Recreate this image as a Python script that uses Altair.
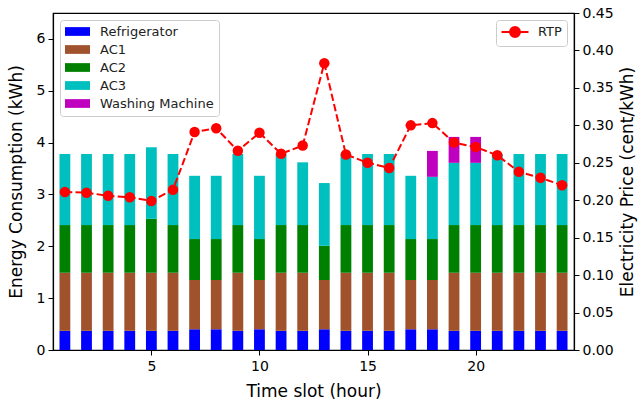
import altair as alt
import pandas as pd

slots = list(range(1, 25))
refrigerator = [0.37, 0.37, 0.37, 0.37, 0.37, 0.37, 0.40, 0.40, 0.37, 0.40, 0.37, 0.37,
                0.40, 0.37, 0.37, 0.37, 0.40, 0.40, 0.37, 0.37, 0.37, 0.37, 0.37, 0.37]
ac1 = [1.12, 1.12, 1.12, 1.12, 1.12, 1.12, 0.95, 0.95, 1.12, 0.95, 1.12, 1.12,
       0.95, 1.12, 1.12, 1.12, 0.95, 0.95, 1.12, 1.12, 1.12, 1.12, 1.12, 1.12]
ac2 = [0.92, 0.92, 0.92, 0.92, 1.04, 0.92, 0.79, 0.79, 0.92, 0.79, 0.92, 0.92,
       0.66, 0.92, 0.92, 0.92, 0.79, 0.79, 0.92, 0.92, 0.92, 0.92, 0.92, 0.92]
ac3 = [1.37, 1.37, 1.37, 1.37, 1.38, 1.37, 1.22, 1.22, 1.37, 1.22, 1.37, 1.21,
       1.21, 1.37, 1.37, 1.37, 1.22, 1.20, 1.20, 1.20, 1.37, 1.37, 1.37, 1.37]
washing = [0, 0, 0, 0, 0, 0, 0, 0, 0, 0, 0, 0,
           0, 0, 0, 0, 0, 0.50, 0.50, 0.50, 0, 0, 0, 0]
rtp = [0.211, 0.210, 0.206, 0.204, 0.199, 0.214, 0.291, 0.296, 0.266, 0.290, 0.262, 0.273,
       0.383, 0.261, 0.250, 0.243, 0.300, 0.303, 0.277, 0.271, 0.260, 0.238, 0.230, 0.220]

appliances = ["Refrigerator", "AC1", "AC2", "AC3", "Washing Machine"]
colors = ["#0000ff", "#a0522d", "#008000", "#00bfbf", "#bf00bf"]
series = [refrigerator, ac1, ac2, ac3, washing]

rows = []
for k, (name, vals) in enumerate(zip(appliances, series)):
    for s, v in zip(slots, vals):
        rows.append({"slot": s, "appliance": name, "value": v, "order": k})
bars_df = pd.DataFrame(rows)
rtp_df = pd.DataFrame({"slot": slots, "rtp": rtp, "series": "RTP"})

FONT = "DejaVu Sans"
xscale = alt.Scale(domain=[0.45, 24.55], nice=False, zero=False)

bars = alt.Chart(bars_df).transform_stack(
    stack="value", groupby=["slot"], as_=["y0", "y1"],
    sort=[alt.SortField("order", order="ascending")],
).transform_calculate(
    xl="datum.slot - 0.25", xr="datum.slot + 0.25"
).mark_bar(stroke=None).encode(
    x=alt.X("xl:Q", scale=xscale,
            axis=alt.Axis(values=[5, 10, 15, 20], title="Time slot (hour)", grid=False,
                          titlePadding=10, labelPadding=4)),
    x2="xr:Q",
    y=alt.Y("y0:Q",
            scale=alt.Scale(domain=[0, 6.5], nice=False),
            axis=alt.Axis(values=[0, 1, 2, 3, 4, 5, 6], title="Energy Consumption (kWh)",
                          grid=False, titlePadding=11)),
    y2="y1:Q",
    color=alt.Color("appliance:N",
                    scale=alt.Scale(domain=appliances, range=colors),
                    sort=appliances,
                    legend=alt.Legend(title=None, orient="top-left", offset=7,
                                      fillColor="white", strokeColor="#cccccc",
                                      cornerRadius=3, padding=5, rowPadding=4,
                                      symbolType="M-2,-0.7L2,-0.7L2,0.7L-2,0.7Z",
                                      symbolSize=156, symbolStrokeWidth=0,
                                      symbolOffset=6, labelOffset=16,
                                      labelFontSize=13, labelFont=FONT,
                                      labelColor="#222222", symbolOpacity=1)),
)

line = alt.Chart(rtp_df).mark_line(
    strokeDash=[7.4, 3.2], strokeWidth=2,
    point=alt.OverlayMarkDef(filled=True, size=110, color="#ff0000"),
).encode(
    x=alt.X("slot:Q", scale=xscale),
    y=alt.Y("rtp:Q", scale=alt.Scale(domain=[0, 0.45], nice=False),
            axis=alt.Axis(orient="right", values=[0, 0.05, 0.1, 0.15, 0.2, 0.25, 0.3, 0.35, 0.4, 0.45],
                          format=".2f", title="Electricity Price (cent/kWh)", grid=False,
                          titlePadding=6, titleAngle=270, titleBaseline="top")),
    color=alt.Color("series:N", scale=alt.Scale(domain=["RTP"], range=["#ff0000"]),
                    legend=alt.Legend(title=None, orient="top-right", offset=7,
                                      fillColor="white", strokeColor="#cccccc",
                                      cornerRadius=3, padding=5,
                                      symbolType="M-2.25,0L-0.83,0M0.83,0L2.25,0M0.83,0A0.83,0.83 0 1,1 -0.83,0A0.83,0.83 0 1,1 0.83,0Z",
                                      symbolSize=144, symbolStrokeWidth=2,
                                      symbolOffset=7, labelOffset=16,
                                      symbolFillColor="#ff0000", symbolStrokeColor="#ff0000",
                                      labelFontSize=13, labelFont=FONT,
                                      labelColor="#222222")),
)

chart = alt.layer(bars, line).resolve_scale(
    y="independent", color="independent"
).resolve_legend(color="independent").properties(
    width=521, height=337,
    autosize=alt.AutoSizeParams(type="none"),
    padding={"left": 53, "top": 13, "right": 69, "bottom": 53},
).configure_view(
    stroke="black", strokeWidth=1.2
).configure_axis(
    labelFont=FONT, titleFont=FONT, labelFontSize=14, titleFontSize=17,
    labelColor="black", titleColor="black", titleFontWeight="normal",
    domainColor="black", tickColor="black", tickSize=5, domainWidth=1.2,
    labelPadding=3,
)

chart.save("out.html", embed_options={"renderer": "svg", "actions": False})
